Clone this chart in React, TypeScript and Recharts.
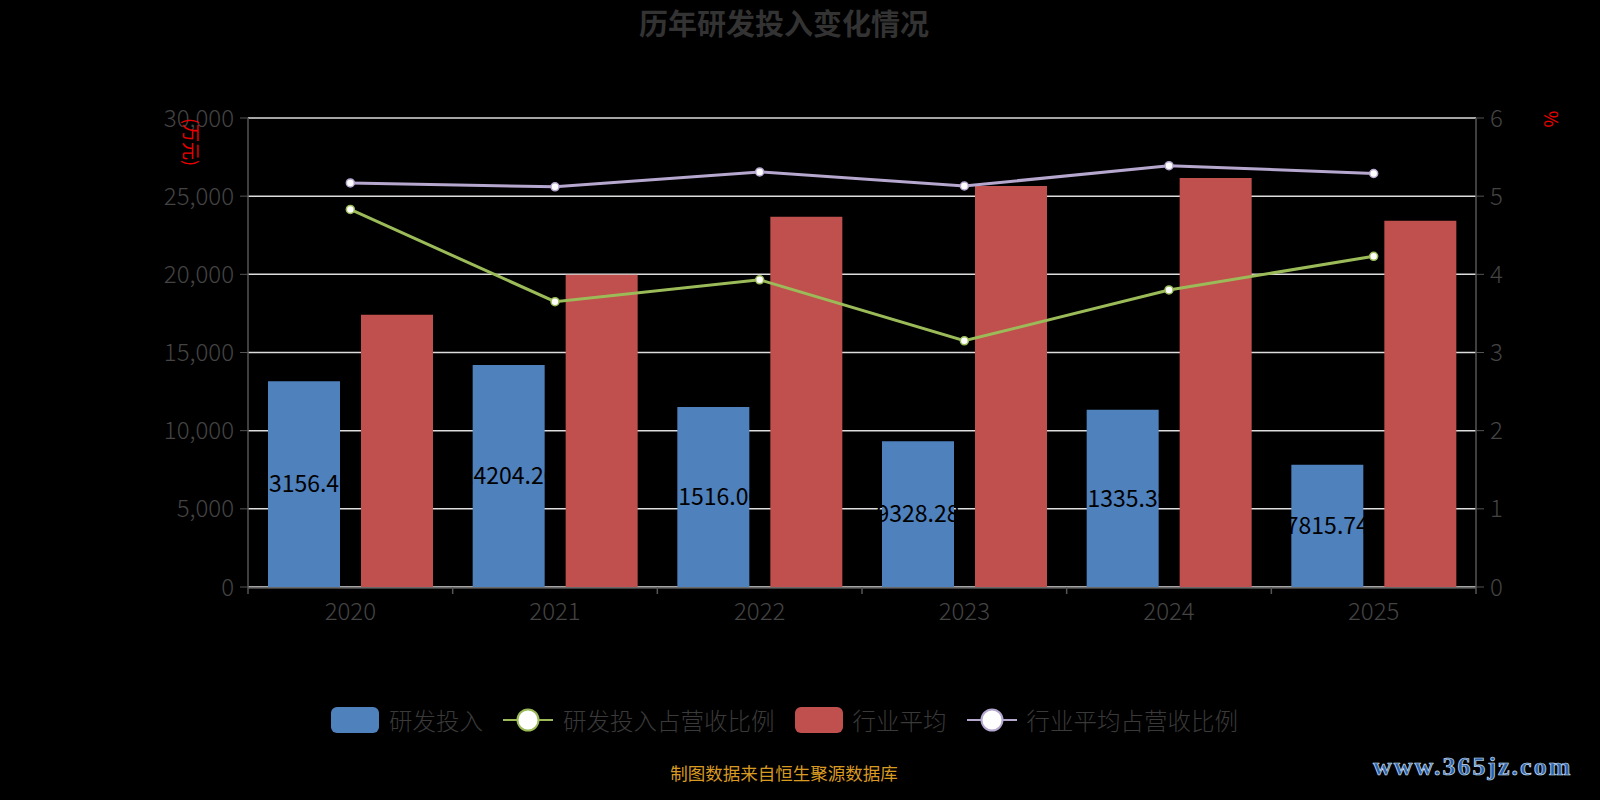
import React from "react";
import {
  Bar,
  CartesianGrid,
  ComposedChart,
  LabelList,
  Line,
  XAxis,
  YAxis
} from "recharts";

const years = ["2020", "2021", "2022", "2023", "2024", "2025"];
const rdSpend = [13156.4, 14204.2, 11516.0, 9328.28, 11335.39, 7815.74];
const industryAvg = [17420, 19970, 23680, 25650, 26170, 23420];
const rdRatio = [4.83, 3.65, 3.93, 3.15, 3.8, 4.23];
const industryRatio = [5.17, 5.12, 5.31, 5.13, 5.39, 5.29];
const leftTicks = [0, 5000, 10000, 15000, 20000, 25000, 30000];
const rightTicks = [0, 1, 2, 3, 4, 5, 6];
// boundaries between the year bands, in index units
const bandTicks = [-0.5, 0.5, 1.5, 2.5, 3.5, 4.5, 5.5];

const BLUE = "#4f81bd";
const RED = "#c0504d";
const GREEN = "#9bbb59";
const PURPLE = "#b6a7cf";
const AXIS = "#555";
const TICK_TEXT = "#444";
const FONT = '"Noto Sans CJK SC", "Noto Sans", sans-serif';

const data = years.map((year, i) => ({
  year,
  idx: i,
  rd: rdSpend[i],
  avg: industryAvg[i],
  rdRatio: rdRatio[i],
  avgRatio: industryRatio[i]
}));

const legendItems = [
  { label: "研发投入", color: BLUE, kind: "bar" },
  { label: "研发投入占营收比例", color: GREEN, kind: "line" },
  { label: "行业平均", color: RED, kind: "bar" },
  { label: "行业平均占营收比例", color: PURPLE, kind: "line" }
];

function LegendIcon({ color, kind }: { color: string; kind: string }) {
  if (kind === "bar") {
    return (
      <svg width={48} height={26}>
        <rect x={0} y={0} width={48} height={26} rx={6} fill={color} />
      </svg>
    );
  }
  return (
    <svg width={50} height={26}>
      <line x1={0} y1={13} x2={50} y2={13} stroke={color} strokeWidth={2} />
      <circle cx={25} cy={13} r={10.5} fill="#fff" stroke={color} strokeWidth={2} />
    </svg>
  );
}

const tickStyle = { fill: TICK_TEXT, fontSize: 24, fontWeight: 300 };

export default function App() {
  return (
    <div
      style={{
        position: "absolute",
        left: 0,
        top: 0,
        width: 1600,
        height: 800,
        background: "#000",
        fontFamily: FONT,
        overflow: "hidden"
      }}
    >
      <div
        style={{
          position: "absolute",
          top: 1,
          width: 1568,
          textAlign: "center",
          fontSize: 29,
          fontWeight: "bold",
          color: "#333"
        }}
      >
        历年研发投入变化情况
      </div>

      <ComposedChart
        width={1600}
        height={800}
        data={data}
        margin={{ top: 118, right: 0, bottom: 172, left: 0 }}
        barCategoryGap={20}
        barGap={21}
      >
        <CartesianGrid
          yAxisId="left"
          xAxisId="cat"
          vertical={false}
          stroke="#ddd"
          strokeWidth={1.5}
        />
        <XAxis
          xAxisId="band"
          dataKey="idx"
          type="number"
          domain={[-0.5, 5.5]}
          allowDataOverflow
          ticks={bandTicks}
          tickFormatter={() => ""}
          axisLine={false}
          tickLine={{ stroke: AXIS, strokeWidth: 1.5 }}
          tickSize={7}
          height={1}
        />
        <XAxis
          xAxisId="cat"
          dataKey="year"
          axisLine={{ stroke: AXIS, strokeWidth: 1.5 }}
          tickLine={false}
          tick={tickStyle}
          tickMargin={9}
          height={40}
        />
        <YAxis
          yAxisId="left"
          width={248}
          domain={[0, 30000]}
          ticks={leftTicks}
          tickFormatter={(v) => v.toLocaleString("en-US")}
          axisLine={{ stroke: AXIS, strokeWidth: 1.5 }}
          tickLine={{ stroke: AXIS }}
          tickSize={8}
          tickMargin={6}
          tick={tickStyle}
        />
        <YAxis
          yAxisId="right"
          orientation="right"
          width={124}
          domain={[0, 6]}
          ticks={rightTicks}
          axisLine={{ stroke: AXIS, strokeWidth: 1.5 }}
          tickLine={{ stroke: AXIS }}
          tickSize={8}
          tickMargin={6}
          tick={tickStyle}
        />
        <Bar
          xAxisId="cat"
          yAxisId="left"
          dataKey="rd"
          fill={BLUE}
          isAnimationActive={false}
        >
          <LabelList
            dataKey="rd"
            position="center"
            fill="#000"
            fontSize={23}
            formatter={(v: number) => v.toFixed(2)}
          />
        </Bar>
        <Bar
          xAxisId="cat"
          yAxisId="left"
          dataKey="avg"
          fill={RED}
          isAnimationActive={false}
        />
        <Line
          xAxisId="cat"
          yAxisId="right"
          dataKey="rdRatio"
          stroke={GREEN}
          strokeWidth={3}
          dot={{ r: 4, fill: "#fff", stroke: GREEN, strokeWidth: 1.5 }}
          isAnimationActive={false}
        />
        <Line
          xAxisId="cat"
          yAxisId="right"
          dataKey="avgRatio"
          stroke={PURPLE}
          strokeWidth={3}
          dot={{ r: 4, fill: "#fff", stroke: PURPLE, strokeWidth: 1.5 }}
          isAnimationActive={false}
        />
      </ComposedChart>

      <div
        style={{
          position: "absolute",
          left: 168,
          top: 129,
          color: "#e00",
          fontSize: 18,
          transform: "rotate(90deg)",
          transformOrigin: "center",
          whiteSpace: "nowrap"
        }}
      >
        (万元)
      </div>
      <div
        style={{
          position: "absolute",
          left: 1544,
          top: 106,
          color: "#e00",
          fontSize: 18,
          transform: "rotate(90deg)"
        }}
      >
        %
      </div>

      <div
        style={{
          position: "absolute",
          top: 703,
          left: 331,
          display: "flex",
          alignItems: "center",
          fontSize: 23.5,
          fontWeight: 300,
          color: "#3a3a3a"
        }}
      >
        {legendItems.map((item) => (
          <div key={item.label} style={{ display: "flex", alignItems: "center", marginRight: 20 }}>
            <LegendIcon color={item.color} kind={item.kind} />
            <span style={{ marginLeft: 10 }}>{item.label}</span>
          </div>
        ))}
      </div>

      <div
        style={{
          position: "absolute",
          top: 760,
          width: 1568,
          textAlign: "center",
          fontSize: 17.5,
          color: "#d99a22"
        }}
      >
        制图数据来自恒生聚源数据库
      </div>
      <div
        style={{
          position: "absolute",
          left: 1373,
          top: 752,
          fontSize: 26,
          fontWeight: "bold",
          fontFamily: "Liberation Serif, serif",
          color: "#2c5fa8",
          WebkitTextStroke: "0.7px #cfe0f5",
          letterSpacing: 2
        }}
      >
        www.365jz.com
      </div>
    </div>
  );
}
